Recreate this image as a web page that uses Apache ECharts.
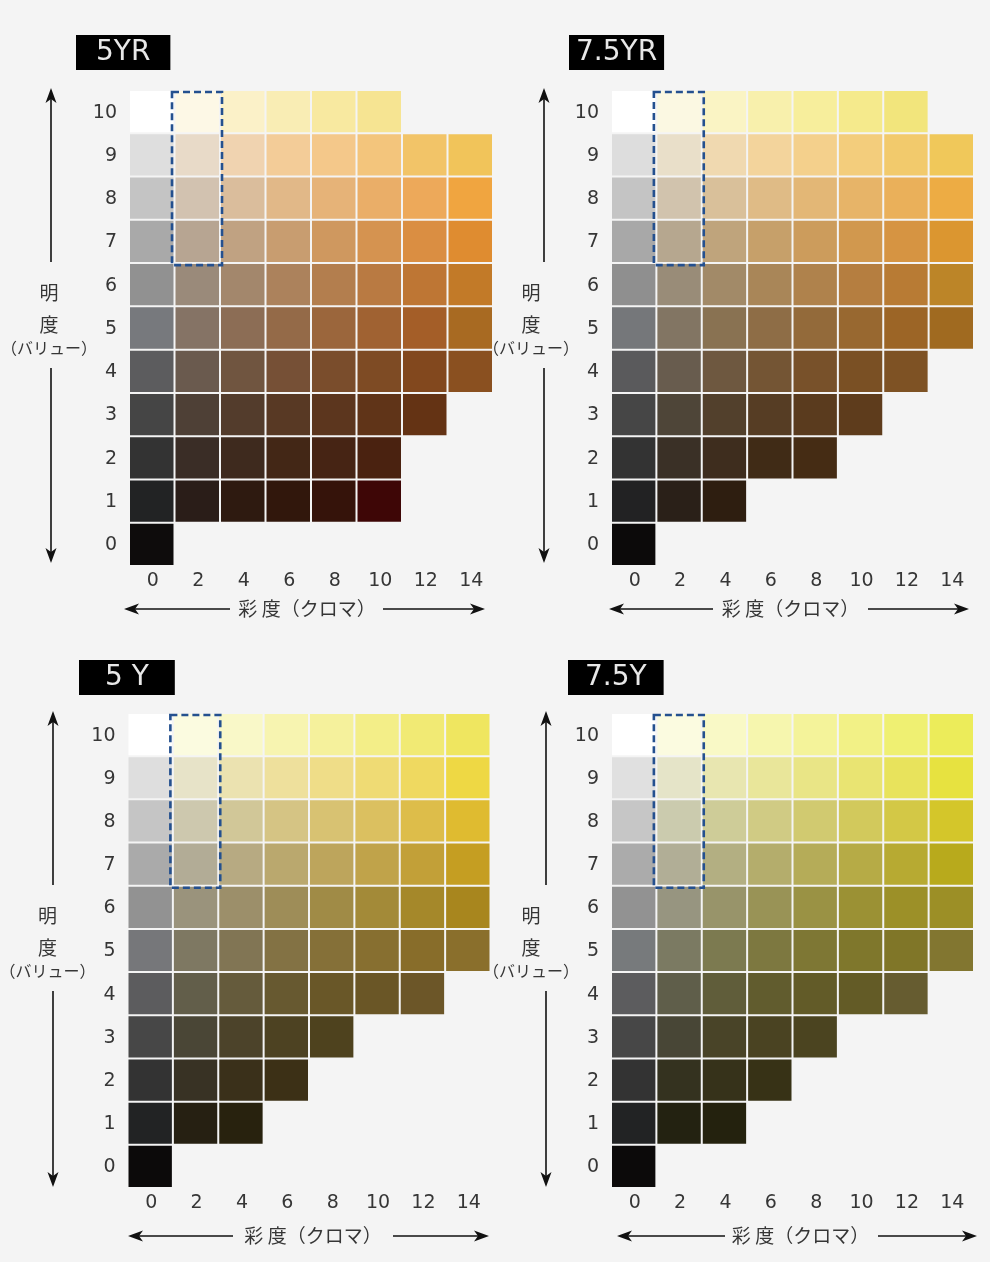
<!DOCTYPE html>
<html><head><meta charset="utf-8">
<script src="https://cdn.jsdelivr.net/npm/echarts@6/dist/echarts.min.js"></script>
<style>html,body{margin:0;padding:0;background:#f4f4f4}#c{width:990px;height:1262px}</style>
</head><body><div id="c"></div>
<script>
// Axis categories
const chromaLabels = ['0','2','4','6','8','10','12','14'];
const valueLabels = ['0','1','2','3','4','5','6','7','8','9','10'];
const hueNames = ['5YR','7.5YR','5 Y','7.5Y'];

// Munsell chip colours: one row per value (0..10), entries per chroma 0,2,4,...
const colors5YR = [
  ['#0e0c0c'],
  ['#222324','#2a1d18','#2e1a10','#31170c','#35130a','#3e0606'],
  ['#333333','#3a2d26','#3e2a1e','#432716','#462414','#4a2210'],
  ['#454545','#4e4036','#533c2c','#583924','#5c361e','#603418','#643314'],
  ['#5c5c5e','#6a5a4e','#705540','#765036','#7a4d2c','#7e4b24','#82481e','#8a5020'],
  ['#77797d','#857365','#8c6d55','#946a48','#9b663c','#a06232','#a45e28','#a86a22'],
  ['#919191','#9a8a7a','#a3876c','#ac825c','#b37e4e','#b97a42','#be7634','#c27a28'],
  ['#a9a9a9','#b7a592','#c0a282','#c89d70','#cf985f','#d59350','#da8e42','#df8c30'],
  ['#c4c4c4','#d2c2b0','#dabd9c','#e1b888','#e6b378','#eaae68','#eda95a','#f0a540'],
  ['#dedede','#e8dac8','#f0d3b0','#f3cc98','#f4c88a','#f3c57c','#f2c468','#f1c45a'],
  ['#ffffff','#fdf8e6','#fbf1c8','#f9edb4','#f8e9a0','#f6e492']
];
const colors75YR = [
  ['#0c0a0a'],
  ['#222223','#2a2018','#2e1e10'],
  ['#333333','#3a3026','#3e2d1e','#402b16','#452c14'],
  ['#464646','#4e4538','#52402c','#563d24','#5a3b1e','#5e3c1c'],
  ['#5a5a5c','#685c4e','#6e5840','#745534','#78512a','#7a5024','#7e5224'],
  ['#75777a','#827563','#897252','#8e6d46','#936a3a','#986830','#9c6526','#a06a20'],
  ['#8f8f8f','#998c78','#a28a68','#a98658','#af824c','#b57e40','#b87b34','#bc8528'],
  ['#a8a8a8','#b6a78f','#bfa47c','#c6a06a','#cc9c5c','#d1984e','#d69442','#db9630'],
  ['#c4c4c4','#d1c3ad','#d9c09a','#dfbb86','#e3b776','#e7b468','#eab05a','#edac44'],
  ['#dddddd','#e9dfc9','#f0d9b0','#f3d49c','#f4d08c','#f3cd7c','#f2ca6c','#f0c85a'],
  ['#ffffff','#fbf8e2','#faf4c4','#f8f0ac','#f7ee9c','#f5ea8c','#f2e57c']
];
const colors5Y = [
  ['#0c0a0a'],
  ['#222324','#262012','#28220e'],
  ['#333333','#383224','#3a301a','#3c3016'],
  ['#474747','#4a4636','#4c432a','#4d4222','#4e421e'],
  ['#5c5c5e','#625e4a','#655b3c','#675930','#695728','#6a5626','#6c5628'],
  ['#76777a','#7e7862','#817554','#837244','#857038','#876f30','#886d2a','#8a6f2c'],
  ['#929292','#9a937c','#9c8f6a','#9e8d58','#a08b46','#a38a38','#a5882a','#a8861e'],
  ['#aaaaaa','#b2ac96','#b7aa82','#baa86e','#bda55c','#c0a34a','#c2a038','#c59e22'],
  ['#c5c5c5','#cdc8ae','#d1c798','#d5c484','#d8c272','#dbc060','#ddbd4a','#dfbb30'],
  ['#dedede','#e7e3c8','#ebe2b0','#eee09c','#efdd88','#efdb74','#efd960','#eed844'],
  ['#ffffff','#fbfbe0','#f9f8c8','#f7f4b0','#f5f19c','#f3ee88','#f1ea74','#efe660']
];
const colors75Y = [
  ['#0c0a0a'],
  ['#222324','#232211','#24220e'],
  ['#333333','#34321f','#36321a','#373216'],
  ['#474747','#484636','#494428','#4a4322','#4b4420'],
  ['#5c5c5e','#5f5e4a','#605d3a','#615c2e','#625b28','#635b26','#665c30'],
  ['#777a7c','#7b7a62','#7c7a50','#7d7840','#7e7734','#7f772c','#807628','#827630'],
  ['#929292','#979580','#98946a','#999356','#9a9244','#9b9134','#9c9028','#9c8f26'],
  ['#ababab','#b1ae96','#b3af82','#b4ad6c','#b5ac58','#b6ab46','#b7aa32','#b8aa1c'],
  ['#c6c6c6','#cbcbae','#cecc98','#d0cb84','#d1ca70','#d2c95c','#d3c846','#d4c62a'],
  ['#e0e0e0','#e5e4c8','#e8e6b0','#e9e69a','#e9e586','#e9e472','#e8e35c','#e7e240'],
  ['#ffffff','#fbfbe0','#f9f9c6','#f6f6ae','#f4f39a','#f2f186','#eff072','#ecec5a']
];
// highlighted chroma column and value range (chroma 2, values 7..10)
const highlight = [1, 10, 7];

const panels = [colors5YR, colors75YR, colors5Y, colors75Y];
const gridPos = [
  {left:130, top:91, width:364, height:476},
  {left:612, top:91, width:363, height:476},
  {left:128.5, top:714, width:363, height:475},
  {left:612, top:714, width:363, height:475}
];
const titlePos = [[76,35],[569,35],[79,660],[568,660]];
const titlePad = [20, 7, 26, 17];
const xNamePad = [[0,10,0,0],[0,6,0,0],[0,0,0,6],[0,0,0,14]];
const xNameGap = [32, 32, 37, 37];

const TXT = '#363636';
const grids = [], xAxes = [], yAxes = [], series = [], titles = [], graphics = [];

panels.forEach((rows, p) => {
  grids.push(Object.assign({containLabel:false, outerBoundsMode:'none'}, gridPos[p]));
  xAxes.push({
    type:'category', gridIndex:p, data:chromaLabels,
    axisLine:{show:false}, axisTick:{show:false}, splitLine:{show:false},
    axisLabel:{color:TXT, fontSize:19, fontFamily:'DejaVu Sans', margin:5},
    name:'彩 度（クロマ）', nameLocation:'middle', nameGap:xNameGap[p], nameMoveOverlap:false,
    nameTextStyle:{color:TXT, fontSize:19, fontFamily:'Noto Sans CJK JP', padding:xNamePad[p]}
  });
  yAxes.push({
    type:'category', gridIndex:p, data:valueLabels,
    axisLine:{show:false}, axisTick:{show:false}, splitLine:{show:false},
    axisLabel:{color:TXT, fontSize:19, fontFamily:'DejaVu Sans', margin:13, padding:[4,0,0,0]},
    name:'{a|明}\n{a|度}\n{b|（バリュー）}', nameLocation:'middle', nameRotate:0, nameGap:34,
    nameMoveOverlap:false,
    nameTextStyle:{padding:[0,0,26,0], rich:{
      a:{color:TXT, fontSize:19, fontFamily:'Noto Sans CJK JP', width:94, align:'center', lineHeight:32},
      b:{color:TXT, fontSize:16, fontFamily:'Noto Sans CJK JP', width:94, align:'center', lineHeight:14}
    }}
  });
  const data = [];
  rows.forEach((row, v) => {
    row.forEach((col, i) => data.push({value:[i, v], itemStyle:{color:col}}));
  });
  series.push({
    type:'custom', xAxisIndex:p, yAxisIndex:p, data:data, silent:true,
    renderItem:function(params, api){
      const c = api.coord([api.value(0), api.value(1)]);
      const s = api.size([1,1]);
      return {type:'rect', shape:{x:c[0]-s[0]/2, y:c[1]-s[1]/2, width:s[0]-2, height:s[1]-2},
              style:{fill:api.visual('color')}};
    }
  });
  series.push({
    type:'custom', xAxisIndex:p, yAxisIndex:p, data:[highlight], silent:true, z:5,
    renderItem:function(params, api){
      const t = api.coord([api.value(0), api.value(1)]);
      const b = api.coord([api.value(0), api.value(2)]);
      const s = api.size([1,1]);
      const x0 = t[0]-s[0]/2-3.5, y0 = t[1]-s[1]/2+1;
      return {type:'rect', shape:{x:x0, y:y0, width:s[0]+4.5, height:(b[1]+s[1]/2+1)-y0},
              style:{fill:null, stroke:'#24508f', lineWidth:2.6, lineDash:[7,4]}};
    }
  });
  titles.push({
    text:hueNames[p], left:titlePos[p][0], top:titlePos[p][1],
    backgroundColor:'#000', padding:[3,titlePad[p],2,titlePad[p]],
    textStyle:{color:'#e8e8e8', fontSize:28, fontWeight:'normal', fontFamily:'DejaVu Sans', lineHeight:30}
  });
});

// decorative double-headed arrows
function headPts(x, y, dx, dy){
  const L = 15, W = 5.5, N = 11;
  const px = -dy, py = dx;
  return [[x,y],[x-dx*L+px*W, y-dy*L+py*W],[x-dx*N, y-dy*N],[x-dx*L-px*W, y-dy*L-py*W]];
}
function line(x1,y1,x2,y2){
  return {type:'line', shape:{x1,y1,x2,y2}, style:{stroke:'#111', lineWidth:1.6}, silent:true};
}
function poly(pts){ return {type:'polygon', shape:{points:pts}, style:{fill:'#111'}, silent:true}; }
const vArrows = [[51,88,563,262,368],[544,88,563,262,368],[53,711,1187,885,991],[546,711,1187,885,991]];
const hArrows = [[609,124,485,230,383],[609,609,969,713,868],[1236,128,489,233,393],[1236,617,977,725,878]];
vArrows.forEach(a => {
  const [x,y1,y2,g1,g2] = a;
  graphics.push(line(x,y1+8,x,g1), line(x,g2,x,y2-8), poly(headPts(x,y1,0,-1)), poly(headPts(x,y2,0,1)));
});
hArrows.forEach(a => {
  const [y,x1,x2,g1,g2] = a;
  graphics.push(line(x1+8,y,g1,y), line(g2,y,x2-8,y), poly(headPts(x1,y,-1,0)), poly(headPts(x2,y,1,0)));
});

const chart = echarts.init(document.getElementById('c'), null, {renderer:'canvas'});
chart.setOption({
  backgroundColor:'#f4f4f4',
  animation:false,
  title:titles,
  grid:grids, xAxis:xAxes, yAxis:yAxes, series:series,
  graphic:graphics
});
</script></body></html>
